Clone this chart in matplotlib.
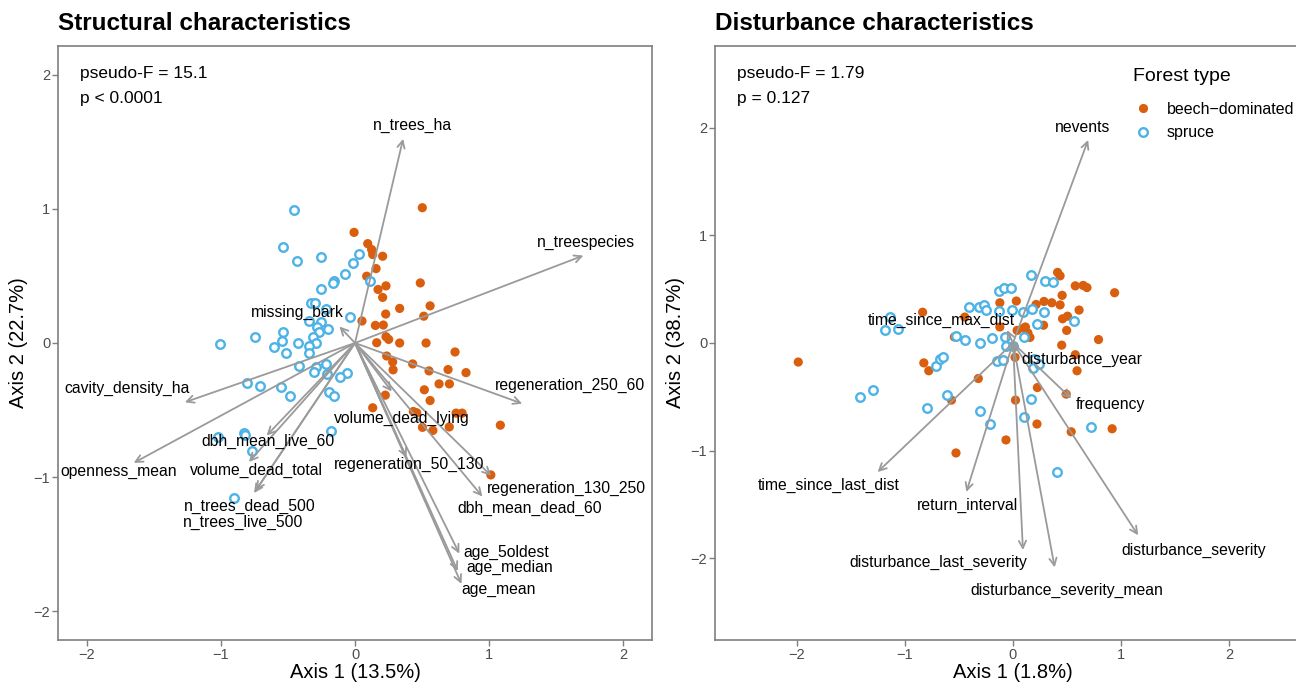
import matplotlib
matplotlib.use("Agg")
import matplotlib.pyplot as plt
from matplotlib.lines import Line2D

plt.rcParams['font.family'] = ['Liberation Sans', 'DejaVu Sans']

# ---- structural panel: site scores ----
beech_x1 = [0.502, -0.007, 0.095, 0.124, 0.132, 0.206, 0.157, 0.087, 0.487, 0.231, 0.172, 0.206,
            0.56, 0.333, 0.229, 0.513, 0.052, 0.152, 0.211, 0.231, 0.251, 0.162, 0.333, 0.53,
            0.746, 0.236, 0.281, 0.284, 0.43, 0.552, 0.694, 0.828, 0.627, 0.704, 0.517, 0.226,
            0.56, 0.132, 0.435, 0.46, 0.754, 0.799, 1.084, 0.503, 0.581, 0.703, 1.013]
beech_y1 = [1.009, 0.825, 0.741, 0.697, 0.66, 0.647, 0.555, 0.498, 0.448, 0.426, 0.399, 0.34,
            0.277, 0.258, 0.216, 0.2, 0.164, 0.131, 0.134, 0.047, 0.027, 0.002, 0.0, 0.0,
            -0.067, -0.097, -0.141, -0.2, -0.156, -0.208, -0.198, -0.221, -0.305, -0.305, -0.349, -0.389,
            -0.429, -0.483, -0.511, -0.52, -0.523, -0.523, -0.613, -0.629, -0.652, -0.626, -0.984]
spruce_x1 = [-0.453, -0.537, -0.433, -0.251, 0.03, -0.017, -0.075, -0.159, -0.164, 0.112, -0.251,
             -0.328, -0.301, -0.219, -0.037, -0.341, -0.256, -0.284, -0.201, -0.269, -0.535, -0.749,
             -0.316, -0.547, -0.425, -1.007, -0.289, -0.607, -0.343, -0.517, -0.341, -0.416, -0.219,
             -0.293, -0.304, -0.211, -0.06, -0.112, -0.806, -0.711, -0.552, -0.485, -0.196, -0.154,
             -0.181, -1.022, -0.831, -0.819, -0.769, -0.9]
spruce_y1 = [0.994, 0.719, 0.615, 0.642, 0.662, 0.6, 0.518, 0.463, 0.451, 0.461, 0.401,
             0.302, 0.295, 0.255, 0.191, 0.161, 0.156, 0.121, 0.104, 0.084, 0.084, 0.045,
             0.045, 0.017, 0.0, -0.01, 0.0, -0.032, -0.022, -0.077, -0.072, -0.173, -0.154,
             -0.176, -0.213, -0.23, -0.223, -0.25, -0.297, -0.317, -0.327, -0.392, -0.367, -0.392,
             -0.655, -0.703, -0.671, -0.684, -0.806, -1.158]

# ---- structural panel: variable vectors ----
vars1 = ['n_trees_ha', 'n_treespecies', 'missing_bark', 'cavity_density_ha', 'openness_mean',
         'dbh_mean_live_60', 'volume_dead_total', 'n_trees_dead_500', 'n_trees_live_500',
         'volume_dead_lying', 'regeneration_50_130', 'regeneration_250_60', 'regeneration_130_250',
         'dbh_mean_dead_60', 'age_5oldest', 'age_median', 'age_mean']
vec_x1 = [0.359, 1.703, -0.116, -1.269, -1.65, -0.659, -0.791, -0.753, -0.74,
          0.274, 0.384, 1.247, 1.016, 0.95, 0.778, 0.766, 0.794]
vec_y1 = [1.523, 0.652, 0.123, -0.442, -0.894, -0.69, -0.887, -1.119, -1.1,
          -0.362, -0.855, -0.452, -0.99, -1.145, -1.571, -1.7, -1.797]
lab_x1 = [0.428, 1.725, -0.431, -1.703, -1.759, -0.65, -0.734, -0.784, -0.838,
          0.35, 0.403, 1.606, 1.578, 1.303, 1.131, 1.153, 1.069]
lab_y1 = [1.619, 0.748, 0.226, -0.339, -0.958, -0.732, -0.952, -1.219, -1.339,
          -0.565, -0.903, -0.316, -1.081, -1.232, -1.565, -1.677, -1.839]

# ---- disturbance panel: site scores ----
beech_x2 = [-1.989, -0.837, -0.447, -0.543, -0.826, -0.78, -0.321, -0.57, -0.528, -0.065, 0.023,
            0.226, 0.222, 0.539, 0.918, 0.493, 0.593, 0.577, 0.451, 0.792, 0.497, 0.019, -0.122,
            -0.122, 0.031, 0.099, 0.115, 0.138, 0.157, 0.038, 0.214, 0.287, 0.283, 0.359, 0.436,
            0.455, 0.459, 0.505, 0.612, 0.577, 0.65, 0.685, 0.941, 0.413, 0.436]
beech_y2 = [-0.177, 0.286, 0.241, 0.056, -0.185, -0.258, -0.33, -0.531, -1.022, -0.901, -0.531,
            -0.414, -0.753, -0.825, -0.797, -0.475, -0.258, -0.109, -0.02, 0.032, 0.117, -0.133, 0.149,
            0.374, 0.39, 0.137, 0.149, 0.093, 0.052, 0.117, 0.358, 0.386, 0.165, 0.374, 0.354,
            0.443, 0.225, 0.249, 0.306, 0.531, 0.535, 0.515, 0.467, 0.656, 0.624]
spruce_x2 = [-1.419, -1.3, -1.136, -1.185, -1.063, -0.792, -0.715, -0.673, -0.65, -0.608, -0.528,
             -0.444, -0.405, -0.314, -0.272, -0.249, -0.302, -0.302, -0.214, -0.195, -0.149, -0.092,
             -0.13, -0.08, -0.023, -0.126, -0.011, -0.073, -0.069, -0.004, 0.092, 0.103, 0.103,
             0.164, 0.164, 0.18, 0.222, 0.283, 0.294, 0.375, 0.187, 0.241, 0.195, 0.562, 0.405, 0.727]
spruce_y2 = [-0.499, -0.435, 0.241, 0.121, 0.129, -0.604, -0.213, -0.153, -0.129, -0.479, 0.068,
             0.024, 0.33, 0.33, 0.354, 0.31, -0.004, -0.632, -0.757, 0.048, -0.169, -0.161,
             0.483, 0.515, 0.511, 0.302, 0.306, 0.052, -0.024, -0.032, 0.29, 0.052, -0.692,
             -0.519, 0.636, 0.314, 0.181, 0.29, 0.575, 0.567, -0.233, -0.197, -0.153, 0.209, -1.203, -0.777]

# ---- disturbance panel: variable vectors ----
vars2 = ['nevents', 'time_since_max_dist', 'disturbance_year', 'frequency', 'time_since_last_dist',
         'return_interval', 'disturbance_last_severity', 'disturbance_severity_mean',
         'disturbance_severity']
vec_x2 = [0.696, -0.055, 0.02, 0.539, -1.254, -0.432, 0.092, 0.386, 1.159]
vec_y2 = [1.887, 0.12, -0.09, -0.515, -1.199, -1.384, -1.924, -2.085, -1.787]
lab_x2 = [0.642, -0.665, 0.642, 0.902, -1.706, -0.424, -0.696, 0.501, 1.675]
lab_y2 = [2.004, 0.209, -0.157, -0.567, -1.32, -1.513, -2.04, -2.298, -1.924]

orange = '#D95F0E'
blue = '#4DB3E6'
arrow_col = '#9A9A9A'

fig = plt.figure(figsize=(12.96, 6.82), dpi=100)
ax1 = fig.add_axes([58/1296, 42/682, 594/1296, 594/682])
ax2 = fig.add_axes([715/1296, 42/682, 596/1296, 594/682])


def draw_panel(ax, bx, by, sx, sy, vx, vy, lx, ly, names, lim, ticks, xlab, ylab, stat1, stat2):
    ax.scatter(bx, by, s=44, color=orange, edgecolors='none', zorder=3)
    ax.scatter(sx, sy, s=38, facecolors='white', edgecolors=blue, linewidths=1.7, zorder=3)
    for i in range(len(names)):
        ax.annotate('', xy=(vx[i], vy[i]), xytext=(0, 0),
                    arrowprops=dict(arrowstyle='->', color=arrow_col, lw=1.3,
                                    mutation_scale=13, shrinkA=0, shrinkB=0), zorder=4)
        ax.text(lx[i], ly[i], names[i], ha='center', va='center', fontsize=11.3, zorder=5)
    ax.set_xlim(-lim, lim)
    ax.set_ylim(-lim, lim)
    ax.set_xticks(ticks)
    ax.set_yticks(ticks)
    ax.tick_params(colors='#7F7F7F', labelcolor='#4D4D4D', labelsize=10.5, length=4, width=1, pad=1.5)
    for sp in ax.spines.values():
        sp.set_color('#7F7F7F')
        sp.set_linewidth(1.2)
    ax.set_xlabel(xlab, fontsize=14.5)
    ax.set_ylabel(ylab, fontsize=14.5)
    ax.xaxis.set_label_coords(0.5, -0.038)
    ax.yaxis.set_label_coords(-0.05, 0.5)
    ax.text(0.037, 0.953, stat1, transform=ax.transAxes, fontsize=12.5, va='center')
    ax.text(0.037, 0.912, stat2, transform=ax.transAxes, fontsize=12.5, va='center')


draw_panel(ax1, beech_x1, beech_y1, spruce_x1, spruce_y1, vec_x1, vec_y1, lab_x1, lab_y1, vars1,
           2.215, [-2, -1, 0, 1, 2], 'Axis 1 (13.5%)', 'Axis 2 (22.7%)',
           'pseudo-F = 15.1', 'p < 0.0001')
draw_panel(ax2, beech_x2, beech_y2, spruce_x2, spruce_y2, vec_x2, vec_y2, lab_x2, lab_y2, vars2,
           2.76, [-2, -1, 0, 1, 2], 'Axis 1 (1.8%)', 'Axis 2 (38.7%)',
           'pseudo-F = 1.79', 'p = 0.127')

fig.text(58/1296, 1 - 24/682, 'Structural characteristics', fontsize=17.5, fontweight='bold', va='center')
fig.text(715/1296, 1 - 24/682, 'Disturbance characteristics', fontsize=17.5, fontweight='bold', va='center')

handles = [Line2D([], [], marker='o', linestyle='none', markersize=6.6, color=orange, markeredgewidth=0),
           Line2D([], [], marker='o', linestyle='none', markersize=6.2, markerfacecolor='white',
                  markeredgecolor=blue, markeredgewidth=1.7)]
leg = fig.legend(handles, ['beech\u2212dominated', 'spruce'], title='Forest type',
                 loc='upper left', bbox_to_anchor=(1125/1296, 1 - 60/682), frameon=False,
                 fontsize=11.5, title_fontsize=14, handletextpad=0.9, labelspacing=0.55,
                 handlelength=1.2, borderpad=0)
leg._legend_box.align = 'left'
leg._legend_box.sep = 12

fig.savefig('out.png', dpi=100)
